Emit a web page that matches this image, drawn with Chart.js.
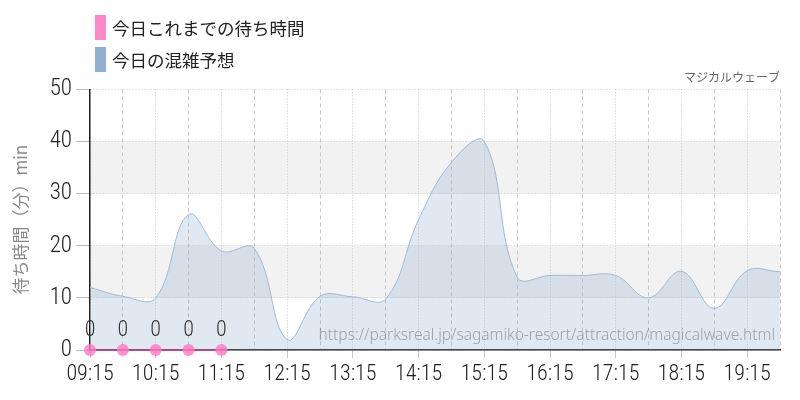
<!DOCTYPE html>
<html lang="ja">
<head>
<meta charset="utf-8">
<script src="https://cdn.jsdelivr.net/npm/chart.js@4"></script>
<style>
  html, body { margin: 0; padding: 0; background: #fff; }
  #wrap { position: relative; width: 800px; height: 400px; }
  #legend { position: absolute; left: 95px; top: 15px; font-family: "Noto Sans CJK JP", sans-serif; font-size: 17.5px; color: #222; }
  .item { display: flex; align-items: center; height: 25px; margin-bottom: 7px; }
  .box { width: 11px; height: 25px; margin-right: 6px; }
</style>
</head>
<body>
<div id="wrap">
  <canvas id="chart" width="800" height="400"></canvas>
  <div id="legend"></div>
</div>
<script>
// time slots, every 30 min
const timeLabels = ["09:15", "09:45", "10:15", "10:45", "11:15", "11:45", "12:15", "12:45",
  "13:15", "13:45", "14:15", "14:45", "15:15", "15:45", "16:15", "16:45",
  "17:15", "17:45", "18:15", "18:45", "19:15", "19:45"];

// actual wait so far (min)
const actualWait = [0, 0, 0, 0, 0, null, null, null, null, null, null, null,
  null, null, null, null, null, null, null, null, null, null];

// forecast wait (min)
const forecastWait = [12, 10.3, 10, 26, 19, 19.5, 2, 10.3, 10.2, 9.8, 25, 36,
  40, 14, 14.3, 14.3, 14.3, 10, 15.1, 8, 15.2, 15];

const seriesNames = ["今日これまでの待ち時間", "今日の混雑予想"];
const yTicks = [0, 10, 20, 30, 40, 50];
const shadedBands = [[10, 20], [30, 40]];

const attractionName = "マジカルウェーブ";
const sourceUrl = "https://parksreal.jp/sagamiko-resort/attraction/magicalwave.html";

const numFont = "'Roboto Condensed', 'DejaVu Sans Condensed', 'Liberation Sans Narrow', 'Noto Sans', sans-serif";
const pink = "#ff88c8";
const blue = "#8fb1cf";

//grey bands behind the grid
const bandPlugin = {
  id: "bands",
  beforeDraw(chart) {
    const { ctx, chartArea, scales } = chart;
    ctx.save();
    ctx.fillStyle = "#f2f2f2";
    shadedBands.forEach(b => {
      const top = scales.y.getPixelForValue(b[1]);
      const bottom = scales.y.getPixelForValue(b[0]);
      ctx.fillRect(chartArea.left, top, chartArea.right - chartArea.left, bottom - top);
    });
    ctx.restore();
  }
};

//value labels over the pink points + source url
const textPlugin = {
  id: "texts",
  afterDatasetsDraw(chart) {
    const { ctx, chartArea } = chart;
    ctx.save();
    ctx.font = "300 15.5px 'Noto Sans', sans-serif";
    ctx.fillStyle = "rgba(110,110,110,0.6)";
    ctx.textAlign = "right";
    ctx.textBaseline = "alphabetic";
    ctx.fillText(sourceUrl, chartArea.right - 5, chartArea.bottom - 10);

    const meta = chart.getDatasetMeta(0);
    ctx.font = "300 22px " + numFont;
    ctx.fillStyle = "#333";
    ctx.textAlign = "center";
    ctx.textBaseline = "middle";
    meta.data.forEach((pt, i) => {
      const v = actualWait[i];
      if (v === null) return;
      ctx.fillText(String(v), pt.x, pt.y - 20);
    });
    ctx.restore();
  }
};

const chart = new Chart(document.getElementById("chart"), {
  type: "line",
  data: {
    labels: timeLabels,
    datasets: [
      {
        label: seriesNames[0],
        data: actualWait,
        borderColor: "#c8408a",
        borderWidth: 1.5,
        pointRadius: 6,
        pointBackgroundColor: "rgba(255,120,195,0.8)",
        pointBorderWidth: 0,
        fill: false,
        clip: false,
        spanGaps: false
      },
      {
        label: seriesNames[1],
        data: forecastWait,
        borderColor: "#9dbbd6",
        borderWidth: 1,
        backgroundColor: "rgba(143,177,207,0.28)",
        pointRadius: 0,
        fill: "origin",
        tension: 0.4
      }
    ]
  },
  options: {
    responsive: false,
    animation: false,
    layout: { padding: { top: 69, right: 20, left: 0, bottom: 0 } },
    plugins: {
      legend: { display: false },
      tooltip: { enabled: false },
      title: {
        display: true,
        text: attractionName,
        align: "end",
        color: "#666",
        font: { family: "'Noto Sans CJK JP', sans-serif", size: 12, weight: "normal" },
        padding: { top: 1, bottom: 5 }
      }
    },
    scales: {
      x: {
        offset: false,
        afterFit: s => { s.height = 50; },
        grid: {
          color: "#c8c8c8",
          tickLength: 8,
          tickColor: c => (c.index % 2 === 0 ? "#c8c8c8" : "rgba(0,0,0,0)")
        },
        border: {
          color: "#222",
          width: 1.5,
          dash: c => (c.index % 2 === 0 ? [1, 2] : [4, 3])
        },
        ticks: {
          autoSkip: false,
          maxRotation: 0,
          padding: 3,
          color: "#222",
          font: { family: numFont, size: 22, weight: "300" },
          callback: function (val, i) { return i % 2 === 0 ? this.getLabelForValue(val) : ""; }
        }
      },
      y: {
        min: 0,
        max: 50,
        afterFit: s => { s.width = 90; },
        afterBuildTicks: s => { s.ticks = yTicks.map(v => ({ value: v })); },
        grid: { color: "#c8c8c8", tickLength: 14, tickColor: "#bbb", tickBorderDash: [] },
        border: { color: "#222", width: 1.5, dash: [1, 2] },
        ticks: {
          padding: 4,
          color: "#222",
          font: { family: numFont, size: 23, weight: "300" }
        },
        title: {
          display: true,
          text: "待ち時間（分）min",
          color: "#888",
          font: { family: "'Noto Sans CJK JP', sans-serif", size: 17, weight: "normal" },
          padding: { top: 10, bottom: 0 }
        }
      }
    }
  },
  plugins: [bandPlugin, textPlugin]
});

//legend as html, built from the datasets
const legendBox = document.getElementById("legend");
chart.data.datasets.forEach((ds, i) => {
  const row = document.createElement("div");
  row.className = "item";
  row.innerHTML = `<span class="box" style="background:${i === 0 ? pink : blue}"></span><span>${ds.label}</span>`;
  legendBox.appendChild(row);
});
</script>
</body>
</html>
